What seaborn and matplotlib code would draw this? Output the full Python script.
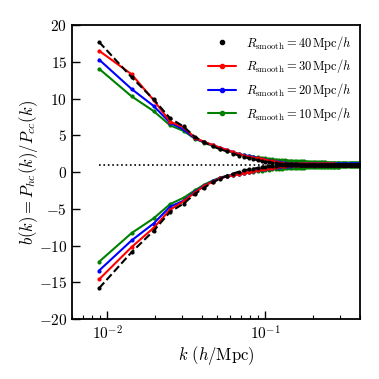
import numpy as np
import pandas as pd
import matplotlib
matplotlib.use("Agg")
import matplotlib.pyplot as plt
import seaborn as sns
from matplotlib.lines import Line2D

# ---------------- data ----------------
k = [0.0089, 0.0143, 0.0197, 0.0251, 0.0305, 0.0359, 0.0413, 0.0467, 0.0521, 0.0575,
     0.0629, 0.0683, 0.0737, 0.0791, 0.0845, 0.0899, 0.0953, 0.1007, 0.1061, 0.1115,
     0.1169, 0.1223, 0.1277, 0.1331, 0.1385, 0.1439, 0.1493, 0.1547, 0.1601, 0.1655,
     0.1709, 0.1763, 0.1817, 0.1871, 0.1925, 0.1979, 0.2033, 0.2087, 0.2141, 0.2195,
     0.2249, 0.2303, 0.2357, 0.2411, 0.2465, 0.2519, 0.2573, 0.2627, 0.2681, 0.2735,
     0.2789, 0.2843, 0.2897, 0.2951, 0.3005, 0.3059, 0.3113, 0.3167, 0.3221, 0.3275,
     0.3329, 0.3383, 0.3437, 0.3491, 0.3545, 0.3599, 0.3653, 0.3707, 0.3761, 0.3815,
     0.3869, 0.3923, 0.3977]

b40_up = [17.7, 12.9, 9.9, 7.3, 6.2, 4.8, 4.05, 3.5, 3.1, 2.8,
          2.5, 2.25, 2.05, 1.88, 1.74, 1.62, 1.51, 1.42, 1.34, 1.27,
          1.21, 1.16, 1.12, 1.09, 1.07, 1.05, 1.04, 1.03, 1.03, 1.02,
          1.02, 1.02, 1.02, 1.02, 1.02, 1.02, 1.02, 1.02, 1.02, 1.02,
          1.02, 1.02, 1.02, 1.02, 1.02, 1.01, 1.01, 1.01, 1.01, 1.01,
          1.01, 1.01, 1.01, 1.01, 1.01, 1.01, 1.01, 1.01, 1.01, 1.01,
          1.01, 1.01, 1.01, 1.01, 1.01, 1.01, 1.01, 1.01, 1.01, 1.01,
          1.01, 1.01, 1.01]
b40_lo = [-15.8, -10.9, -8.0, -5.4, -4.3, -3.0, -2.1, -1.4, -0.9, -0.5,
          -0.2, 0.05, 0.22, 0.36, 0.47, 0.56, 0.64, 0.71, 0.77, 0.82,
          0.86, 0.9, 0.92, 0.94, 0.95, 0.96, 0.97, 0.97, 0.98, 0.98,
          0.98, 0.98, 0.98, 0.98, 0.98, 0.98, 0.98, 0.98, 0.98, 0.98,
          0.98, 0.98, 0.98, 0.98, 0.98, 0.99, 0.99, 0.99, 0.99, 0.99,
          0.99, 0.99, 0.99, 0.99, 0.99, 0.99, 0.99, 0.99, 0.99, 0.99,
          0.99, 0.99, 0.99, 0.99, 0.99, 0.99, 0.99, 0.99, 0.99, 0.99,
          0.99, 0.99, 0.99]

b30_up = [16.5, 13.3, 9.8, 6.85, 6.1, 4.7, 4.1, 3.7, 3.3, 3.0,
          2.7, 2.4, 2.22, 2.08, 1.96, 1.85, 1.74, 1.63, 1.53, 1.44,
          1.35, 1.27, 1.2, 1.14, 1.09, 1.06, 1.05, 1.04, 1.04, 1.04,
          1.03, 1.03, 1.03, 1.03, 1.03, 1.03, 1.03, 1.03, 1.03, 1.03,
          1.03, 1.03, 1.03, 1.03, 1.03, 1.03, 1.03, 1.03, 1.03, 1.03,
          1.02, 1.02, 1.02, 1.02, 1.02, 1.02, 1.02, 1.02, 1.02, 1.02,
          1.02, 1.02, 1.02, 1.02, 1.02, 1.02, 1.02, 1.02, 1.02, 1.02,
          1.02, 1.02, 1.02]
b30_lo = [-14.6, -10.2, -7.6, -5.1, -4.0, -2.8, -1.9, -1.3, -0.85, -0.6,
          -0.45, -0.3, -0.15, 0.0, 0.12, 0.24, 0.35, 0.45, 0.54, 0.62,
          0.7, 0.77, 0.83, 0.88, 0.91, 0.93, 0.94, 0.95, 0.96, 0.96,
          0.97, 0.97, 0.97, 0.97, 0.97, 0.97, 0.97, 0.97, 0.97, 0.97,
          0.97, 0.97, 0.97, 0.97, 0.97, 0.97, 0.97, 0.97, 0.97, 0.97,
          0.98, 0.98, 0.98, 0.98, 0.98, 0.98, 0.98, 0.98, 0.98, 0.98,
          0.98, 0.98, 0.98, 0.98, 0.98, 0.98, 0.98, 0.98, 0.98, 0.98,
          0.98, 0.98, 0.98]

b20_up = [15.3, 11.3, 9.0, 6.7, 5.8, 4.6, 4.05, 3.65, 3.3, 3.0,
          2.72, 2.45, 2.27, 2.12, 2.0, 1.88, 1.77, 1.67, 1.57, 1.48,
          1.4, 1.32, 1.25, 1.19, 1.14, 1.11, 1.09, 1.08, 1.07, 1.07,
          1.06, 1.06, 1.06, 1.06, 1.06, 1.06, 1.06, 1.06, 1.06, 1.06,
          1.06, 1.06, 1.06, 1.06, 1.06, 1.05, 1.05, 1.05, 1.05, 1.05,
          1.05, 1.05, 1.05, 1.05, 1.05, 1.05, 1.05, 1.05, 1.05, 1.05,
          1.05, 1.05, 1.05, 1.05, 1.05, 1.04, 1.04, 1.04, 1.04, 1.04,
          1.04, 1.04, 1.04]
b20_lo = [-13.4, -9.3, -7.0, -4.7, -3.9, -2.7, -1.85, -1.25, -0.8, -0.55,
          -0.4, -0.25, -0.1, 0.05, 0.17, 0.28, 0.38, 0.47, 0.55, 0.62,
          0.69, 0.75, 0.8, 0.84, 0.87, 0.89, 0.91, 0.92, 0.93, 0.93,
          0.94, 0.94, 0.94, 0.94, 0.94, 0.94, 0.94, 0.94, 0.94, 0.94,
          0.94, 0.94, 0.94, 0.94, 0.94, 0.95, 0.95, 0.95, 0.95, 0.95,
          0.95, 0.95, 0.95, 0.95, 0.95, 0.95, 0.95, 0.95, 0.95, 0.95,
          0.95, 0.95, 0.95, 0.95, 0.95, 0.96, 0.96, 0.96, 0.96, 0.96,
          0.96, 0.96, 0.96]

b10_up = [14.05, 10.3, 8.3, 6.35, 5.6, 4.55, 4.0, 3.55, 3.2, 2.9,
          2.65, 2.45, 2.3, 2.2, 2.1, 2.0, 1.93, 1.86, 1.8, 1.75,
          1.7, 1.65, 1.62, 1.6, 1.57, 1.55, 1.53, 1.51, 1.49, 1.47,
          1.45, 1.44, 1.42, 1.41, 1.39, 1.38, 1.37, 1.36, 1.35, 1.34,
          1.33, 1.32, 1.32, 1.31, 1.3, 1.3, 1.29, 1.29, 1.28, 1.28,
          1.27, 1.27, 1.26, 1.26, 1.25, 1.25, 1.25, 1.24, 1.24, 1.23,
          1.22, 1.22, 1.22, 1.21, 1.21, 1.2, 1.2, 1.2, 1.19, 1.19,
          1.19, 1.18, 1.18]
b10_lo = [-12.2, -8.3, -6.3, -4.35, -3.5, -2.5, -1.7, -1.15, -0.75, -0.5,
          -0.35, -0.25, -0.15, -0.05, 0.05, 0.12, 0.2, 0.26, 0.32, 0.37,
          0.41, 0.45, 0.48, 0.5, 0.52, 0.54, 0.56, 0.57, 0.59, 0.6,
          0.61, 0.62, 0.63, 0.64, 0.65, 0.66, 0.67, 0.67, 0.68, 0.69,
          0.69, 0.7, 0.7, 0.71, 0.71, 0.72, 0.72, 0.73, 0.73, 0.74,
          0.74, 0.75, 0.75, 0.75, 0.76, 0.76, 0.77, 0.77, 0.77, 0.78,
          0.78, 0.78, 0.79, 0.79, 0.79, 0.8, 0.8, 0.8, 0.81, 0.81,
          0.81, 0.82, 0.82]

labels = [r"$R_{\rm smooth} = 40\,{\rm Mpc}/h$",
          r"$R_{\rm smooth} = 30\,{\rm Mpc}/h$",
          r"$R_{\rm smooth} = 20\,{\rm Mpc}/h$",
          r"$R_{\rm smooth} = 10\,{\rm Mpc}/h$"]
yticks = [-20, -15, -10, -5, 0, 5, 10, 15, 20]

# ---------------- style ----------------
sns.set_style("ticks")
plt.rcParams.update({
    "font.family": "serif",
    "font.serif": ["cmr10", "DejaVu Serif"],
    "mathtext.fontset": "cm",
    "axes.formatter.use_mathtext": True,
    "axes.unicode_minus": True,
    "axes.linewidth": 1.3,
    "axes.edgecolor": "black",
    "axes.labelcolor": "black",
    "text.color": "black",
    "xtick.color": "black",
    "ytick.color": "black",
})

fig = plt.figure(figsize=(3.79, 3.79), dpi=100)
ax = fig.add_axes([0.19, 0.158, 0.76, 0.776])

# reference line b = 1
ax.hlines(1, k[0], k[-1], colors="k", linestyles=":", lw=1.2, zorder=1)

colored = [(b10_up, b10_lo, "g"), (b20_up, b20_lo, "b"), (b30_up, b30_lo, "r")]
for up, lo, c in colored:
    for vals in (up, lo):
        sns.lineplot(x=k, y=vals, ax=ax, color=c, lw=1.5, marker="o",
                     markersize=3, markeredgewidth=0, estimator=None,
                     sort=False, legend=False, zorder=2)

for vals in (b40_up, b40_lo):
    sns.lineplot(x=k, y=vals, ax=ax, color="k", lw=1.5, ls="--",
                 estimator=None, sort=False, legend=False, zorder=3)
    sns.scatterplot(x=k, y=vals, ax=ax, color="k", s=9, linewidth=0,
                    legend=False, zorder=4)

ax.set_xscale("log")
ax.set_xlim(0.006, 0.40)
ax.set_ylim(-20, 20)
ax.set_yticks(yticks)

ax.tick_params(which="both", direction="in", top=False, right=False,
               labelsize=11)
ax.tick_params(which="major", length=6, width=1.0)
ax.tick_params(which="minor", length=3, width=0.8)

ax.set_xlabel(r"$k\ (h/{\rm Mpc})$", fontsize=12, labelpad=1)
ax.set_ylabel(r"$b(k) = P_{hc}(k)/P_{cc}(k)$", fontsize=12, labelpad=-1)

handles = [Line2D([], [], color="k", marker="o", ls="none", markersize=3),
           Line2D([], [], color="r", marker="o", lw=1.5, markersize=3),
           Line2D([], [], color="b", marker="o", lw=1.5, markersize=3),
           Line2D([], [], color="g", marker="o", lw=1.5, markersize=3)]
ax.legend(handles, labels, loc="upper right", frameon=False, fontsize=9,
          handlelength=2.2, labelspacing=0.45, borderaxespad=0.3)

fig.savefig("out.png", dpi=100)
